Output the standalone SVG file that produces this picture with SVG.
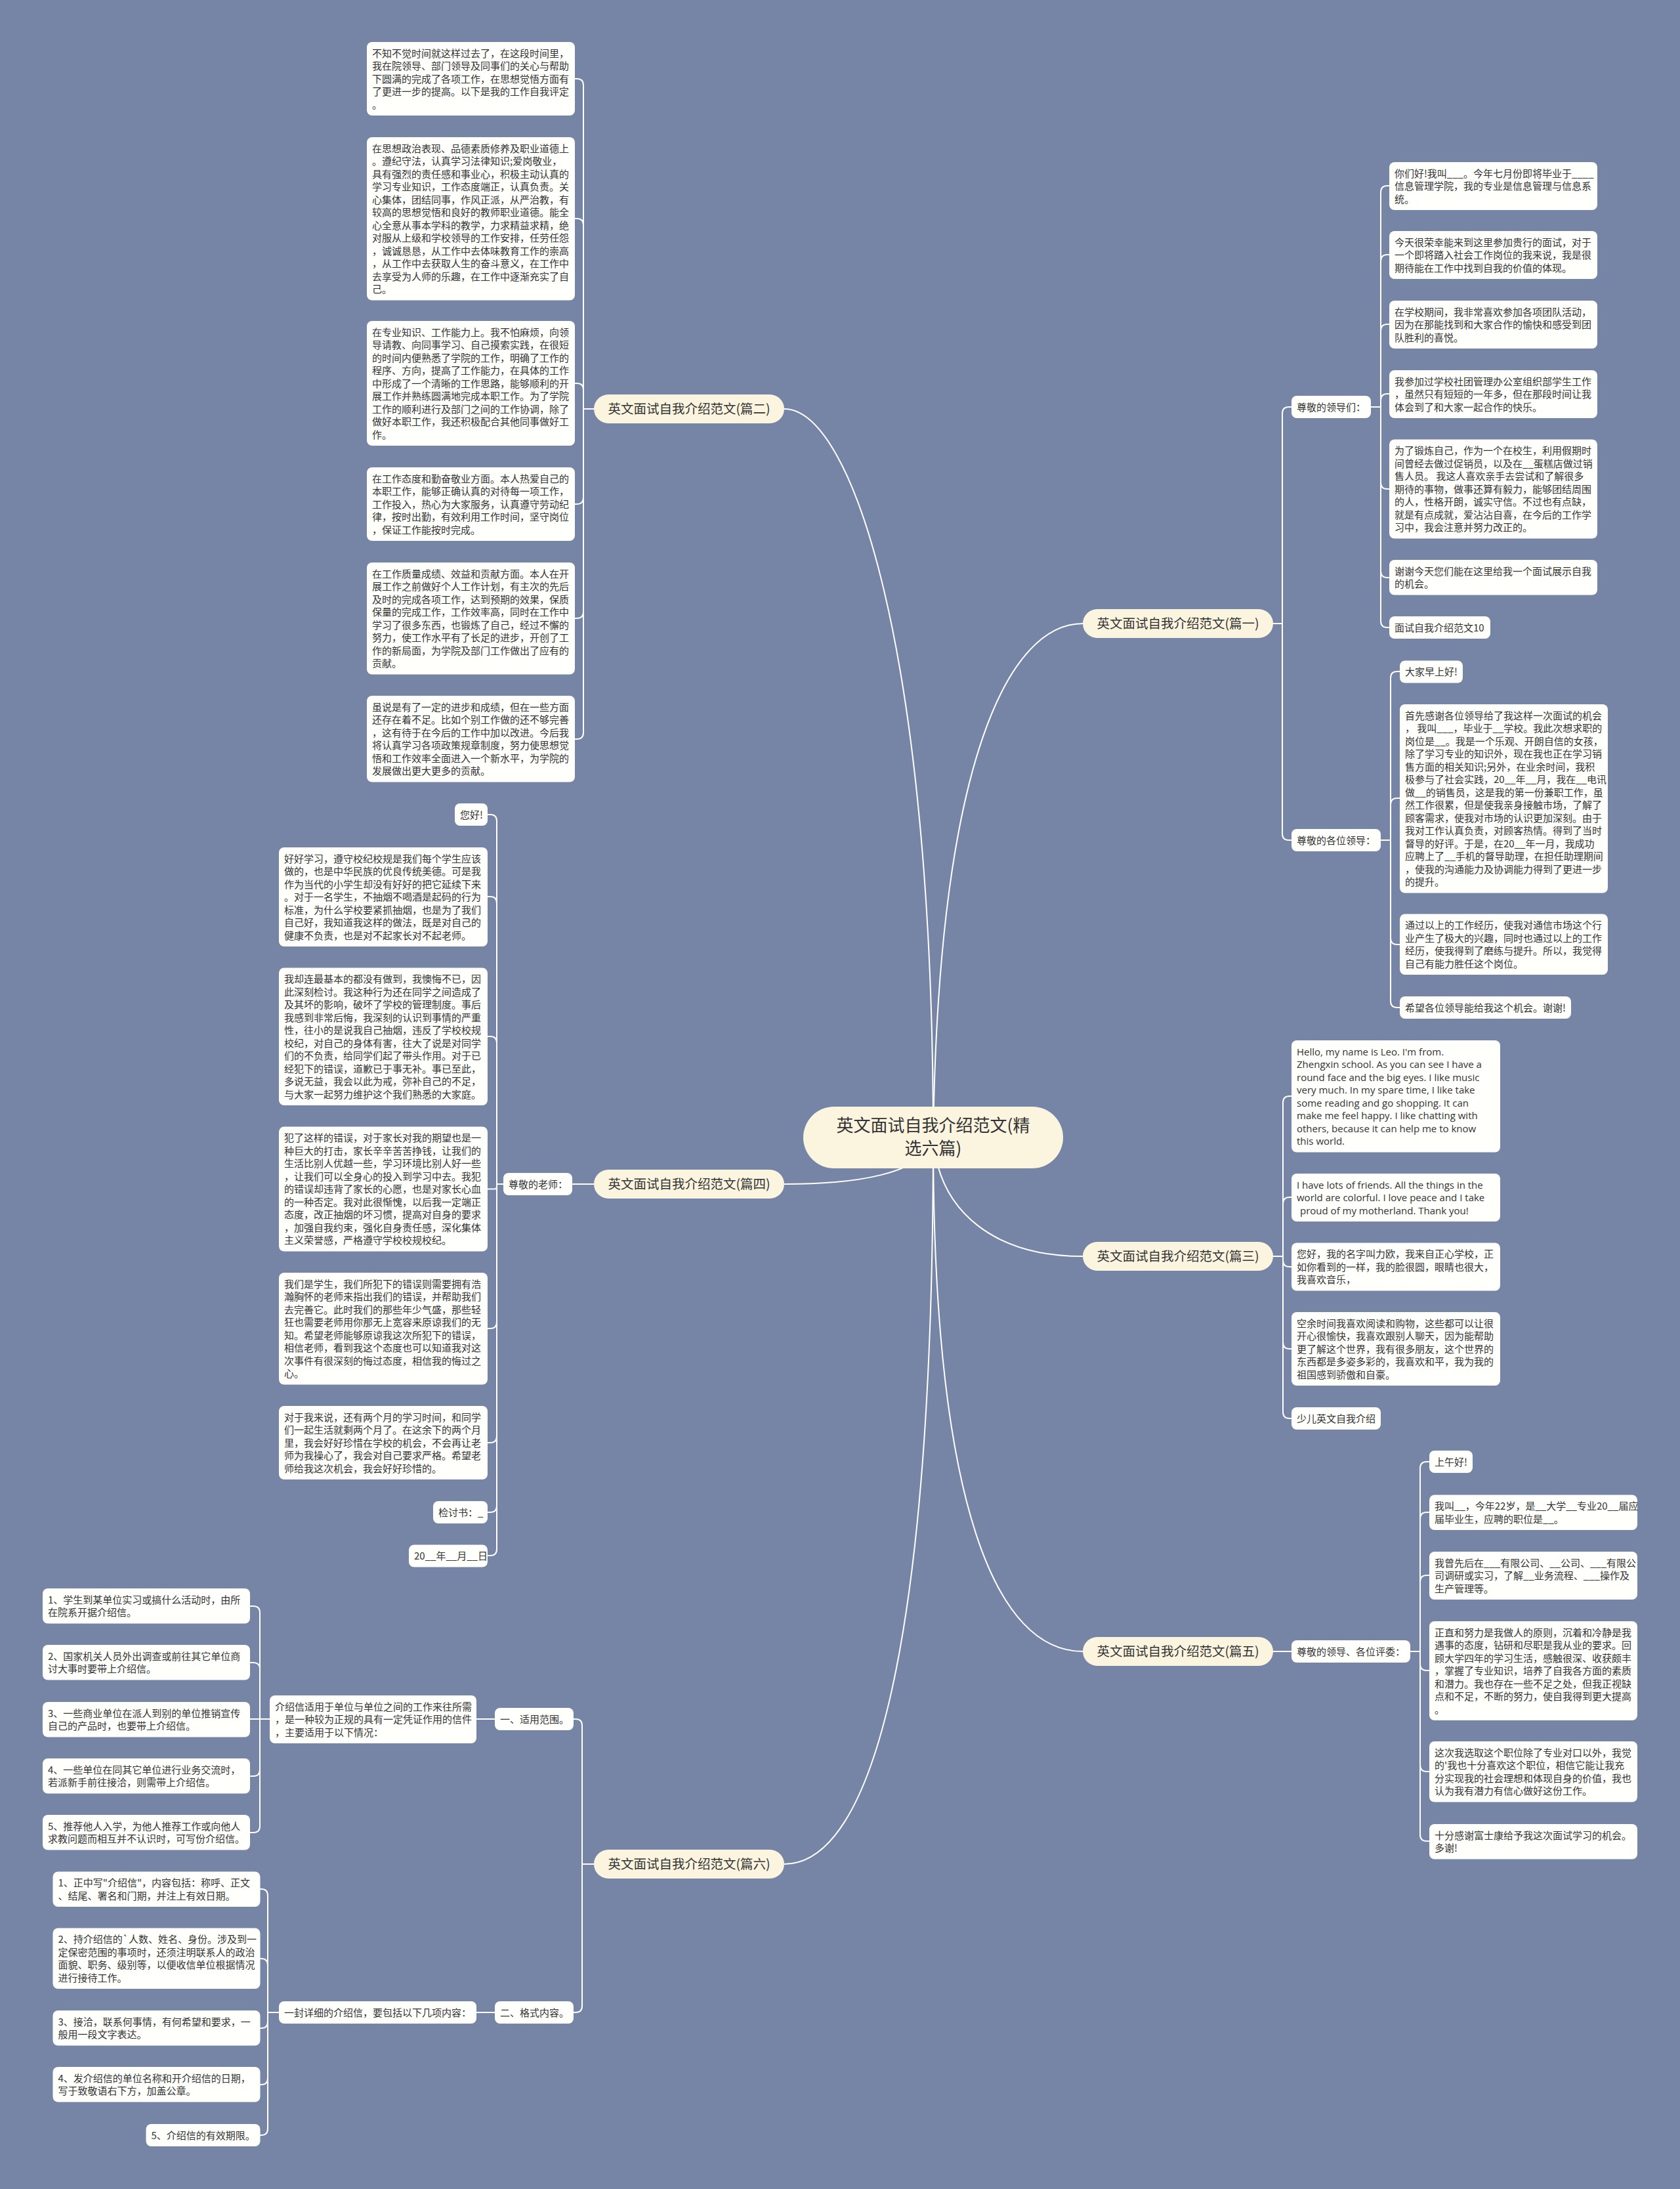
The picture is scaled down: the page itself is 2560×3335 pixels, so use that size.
<svg xmlns="http://www.w3.org/2000/svg" width="2560" height="3335" viewBox="0 0 2560 3335">
<style>
.bg{fill:#7685A6}
.leaf{fill:#FFFFFC}
.main{fill:#FBF5E0}
.t{font-family:"Noto Sans CJK SC","Noto Sans",sans-serif;font-size:15px;fill:#333}
.en{font-family:"Open Sans","Noto Sans",sans-serif;font-size:15px;fill:#333}
.b{font-family:"Noto Sans CJK SC","Noto Sans",sans-serif;font-size:19.5px;fill:#333;text-anchor:middle}
.r{font-family:"Noto Sans CJK SC","Noto Sans",sans-serif;font-size:26px;fill:#333;text-anchor:middle}
.lk{fill:none;stroke:#FFFFFF;stroke-width:2}
</style>
<rect class="bg" x="0" y="0" width="2560" height="3335"/>
<g id="connectors">
<path class="lk" d="M1422,1733C1422,1000 1300,623 1195,623"/>
<path class="lk" d="M1422,1733C1430,1150 1540,950 1650,950"/>
<path class="lk" d="M1422,1733C1410,1790 1300,1804 1195,1804"/>
<path class="lk" d="M1422,1733C1430,1850 1520,1914 1650,1914"/>
<path class="lk" d="M1422,1733C1422,2300 1520,2516 1650,2516"/>
<path class="lk" d="M1422,1733C1422,2500 1330,2840 1195,2840"/>
<path class="lk" d="M905,623H889V130Q889,120 879,120H876"/>
<path class="lk" d="M905,623H889V343Q889,333 879,333H876"/>
<path class="lk" d="M905,623H889V594Q889,584 879,584H876"/>
<path class="lk" d="M905,623H889V758Q889,768 879,768H876"/>
<path class="lk" d="M905,623H889V932Q889,942 879,942H876"/>
<path class="lk" d="M905,623H889V1116Q889,1126 879,1126H876"/>
<path class="lk" d="M1940,950H1954V630Q1954,620 1964,620H1968"/>
<path class="lk" d="M1940,950H1954V1270Q1954,1280 1964,1280H1968"/>
<path class="lk" d="M2089,620H2104V293Q2104,283 2114,283H2117"/>
<path class="lk" d="M2089,620H2104V398Q2104,388 2114,388H2117"/>
<path class="lk" d="M2089,620H2104V504Q2104,494 2114,494H2117"/>
<path class="lk" d="M2089,620H2104V610Q2104,600 2114,600H2117"/>
<path class="lk" d="M2089,620H2104V735Q2104,745 2114,745H2117"/>
<path class="lk" d="M2089,620H2104V870Q2104,880 2114,880H2117"/>
<path class="lk" d="M2089,620H2104V946Q2104,956 2114,956H2117"/>
<path class="lk" d="M2104,1280H2119V1033Q2119,1023 2129,1023H2133"/>
<path class="lk" d="M2104,1280H2119V1226Q2119,1216 2129,1216H2133"/>
<path class="lk" d="M2104,1280H2119V1429Q2119,1439 2129,1439H2133"/>
<path class="lk" d="M2104,1280H2119V1525Q2119,1535 2129,1535H2133"/>
<path class="lk" d="M1940,1914H1955V1680Q1955,1670 1965,1670H1968"/>
<path class="lk" d="M1940,1914H1955V1834Q1955,1824 1965,1824H1968"/>
<path class="lk" d="M1940,1914H1955V1920Q1955,1930 1965,1930H1968"/>
<path class="lk" d="M1940,1914H1955V2045Q1955,2055 1965,2055H1968"/>
<path class="lk" d="M1940,1914H1955V2151Q1955,2161 1965,2161H1968"/>
<path class="lk" d="M1940,2516H1968"/>
<path class="lk" d="M2149,2516H2164V2237Q2164,2227 2174,2227H2178"/>
<path class="lk" d="M2149,2516H2164V2314Q2164,2304 2174,2304H2178"/>
<path class="lk" d="M2149,2516H2164V2410Q2164,2400 2174,2400H2178"/>
<path class="lk" d="M2149,2516H2164V2535Q2164,2545 2174,2545H2178"/>
<path class="lk" d="M2149,2516H2164V2689Q2164,2699 2174,2699H2178"/>
<path class="lk" d="M2149,2516H2164V2795Q2164,2805 2174,2805H2178"/>
<path class="lk" d="M905,1804H872"/>
<path class="lk" d="M767,1804H757V1251Q757,1241 747,1241H743"/>
<path class="lk" d="M767,1804H757V1376Q757,1366 747,1366H743"/>
<path class="lk" d="M767,1804H757V1589Q757,1579 747,1579H743"/>
<path class="lk" d="M767,1804H757V1808Q757,1811.5 753,1811.5H743"/>
<path class="lk" d="M767,1804H757V2014Q757,2024 747,2024H743"/>
<path class="lk" d="M767,1804H757V2188Q757,2198 747,2198H743"/>
<path class="lk" d="M767,1804H757V2294Q757,2304 747,2304H743"/>
<path class="lk" d="M767,1804H757V2360Q757,2370 747,2370H743"/>
<path class="lk" d="M905,2840H887V2629Q887,2619 877,2619H874"/>
<path class="lk" d="M905,2840H887V3056Q887,3066 877,3066H874"/>
<path class="lk" d="M754,2619H726"/>
<path class="lk" d="M411,2619H396V2457Q396,2447 386,2447H381"/>
<path class="lk" d="M411,2619H396V2543Q396,2533 386,2533H381"/>
<path class="lk" d="M411,2619H381"/>
<path class="lk" d="M411,2619H396V2696Q396,2706 386,2706H381"/>
<path class="lk" d="M411,2619H396V2782Q396,2792 386,2792H381"/>
<path class="lk" d="M754,3066H726"/>
<path class="lk" d="M425,3066H408V2888Q408,2878 398,2878H396"/>
<path class="lk" d="M425,3066H408V2994Q408,2984 398,2984H396"/>
<path class="lk" d="M425,3066H408V3080Q408,3090 398,3090H396"/>
<path class="lk" d="M425,3066H408V3166Q408,3176 398,3176H396"/>
<path class="lk" d="M425,3066H408V3243Q408,3253 398,3253H396"/>
</g>
<g id="root">
<rect class="main" x="1224" y="1686" width="396" height="94" rx="47"/>
<text class="r" x="1422" y="1724"><tspan x="1422">英文面试自我介绍范文(精</tspan><tspan x="1422" dy="35">选六篇)</tspan></text>
</g>
<g id="b2"><rect class="main" x="905" y="601" width="290" height="44" rx="22"/><text class="b" x="1050" y="630">英文面试自我介绍范文(篇二)</text></g>
<g id="b1"><rect class="main" x="1650" y="928" width="290" height="44" rx="22"/><text class="b" x="1795" y="957">英文面试自我介绍范文(篇一)</text></g>
<g id="b4"><rect class="main" x="905" y="1782" width="290" height="44" rx="22"/><text class="b" x="1050" y="1811">英文面试自我介绍范文(篇四)</text></g>
<g id="b3"><rect class="main" x="1650" y="1892" width="290" height="44" rx="22"/><text class="b" x="1795" y="1921">英文面试自我介绍范文(篇三)</text></g>
<g id="b5"><rect class="main" x="1650" y="2494" width="290" height="44" rx="22"/><text class="b" x="1795" y="2523">英文面试自我介绍范文(篇五)</text></g>
<g id="b6"><rect class="main" x="905" y="2818" width="290" height="44" rx="22"/><text class="b" x="1050" y="2847">英文面试自我介绍范文(篇六)</text></g>

<g id="b2-1"><rect class="leaf" x="559" y="64" width="317" height="112" rx="8"/><text class="t" x="567" y="86.5"><tspan x="567">不知不觉时间就这样过去了，在这段时间里，</tspan><tspan x="567" dy="19.5">我在院领导、部门领导及同事们的关心与帮助</tspan><tspan x="567" dy="19.5">下圆满的完成了各项工作，在思想觉悟方面有</tspan><tspan x="567" dy="19.5">了更进一步的提高。以下是我的工作自我评定</tspan><tspan x="567" dy="19.5">。</tspan></text></g>
<g id="b2-2"><rect class="leaf" x="559" y="209" width="317" height="248.5" rx="8"/><text class="t" x="567" y="231.5"><tspan x="567">在思想政治表现、品德素质修养及职业道德上</tspan><tspan x="567" dy="19.5">。遵纪守法，认真学习法律知识;爱岗敬业，</tspan><tspan x="567" dy="19.5">具有强烈的责任感和事业心，积极主动认真的</tspan><tspan x="567" dy="19.5">学习专业知识，工作态度端正，认真负责。关</tspan><tspan x="567" dy="19.5">心集体，团结同事，作风正派，从严治教，有</tspan><tspan x="567" dy="19.5">较高的思想觉悟和良好的教师职业道德。能全</tspan><tspan x="567" dy="19.5">心全意从事本学科的教学，力求精益求精，绝</tspan><tspan x="567" dy="19.5">对服从上级和学校领导的工作安排，任劳任怨</tspan><tspan x="567" dy="19.5">，诚诚恳恳，从工作中去体味教育工作的崇高</tspan><tspan x="567" dy="19.5">，从工作中去获取人生的奋斗意义，在工作中</tspan><tspan x="567" dy="19.5">去享受为人师的乐趣，在工作中逐渐充实了自</tspan><tspan x="567" dy="19.5">己。</tspan></text></g>
<g id="b2-3"><rect class="leaf" x="559" y="489" width="317" height="190" rx="8"/><text class="t" x="567" y="511.5"><tspan x="567">在专业知识、工作能力上。我不怕麻烦，向领</tspan><tspan x="567" dy="19.5">导请教、向同事学习、自己摸索实践，在很短</tspan><tspan x="567" dy="19.5">的时间内便熟悉了学院的工作，明确了工作的</tspan><tspan x="567" dy="19.5">程序、方向，提高了工作能力，在具体的工作</tspan><tspan x="567" dy="19.5">中形成了一个清晰的工作思路，能够顺利的开</tspan><tspan x="567" dy="19.5">展工作并熟练圆满地完成本职工作。为了学院</tspan><tspan x="567" dy="19.5">工作的顺利进行及部门之间的工作协调，除了</tspan><tspan x="567" dy="19.5">做好本职工作，我还积极配合其他同事做好工</tspan><tspan x="567" dy="19.5">作。</tspan></text></g>
<g id="b2-4"><rect class="leaf" x="559" y="712" width="317" height="112" rx="8"/><text class="t" x="567" y="734.5"><tspan x="567">在工作态度和勤奋敬业方面。本人热爱自己的</tspan><tspan x="567" dy="19.5">本职工作，能够正确认真的对待每一项工作，</tspan><tspan x="567" dy="19.5">工作投入，热心为大家服务，认真遵守劳动纪</tspan><tspan x="567" dy="19.5">律，按时出勤，有效利用工作时间，坚守岗位</tspan><tspan x="567" dy="19.5">，保证工作能按时完成。</tspan></text></g>
<g id="b2-5"><rect class="leaf" x="559" y="857" width="317" height="170.5" rx="8"/><text class="t" x="567" y="879.5"><tspan x="567">在工作质量成绩、效益和贡献方面。本人在开</tspan><tspan x="567" dy="19.5">展工作之前做好个人工作计划，有主次的先后</tspan><tspan x="567" dy="19.5">及时的完成各项工作，达到预期的效果，保质</tspan><tspan x="567" dy="19.5">保量的完成工作，工作效率高，同时在工作中</tspan><tspan x="567" dy="19.5">学习了很多东西，也锻炼了自己，经过不懈的</tspan><tspan x="567" dy="19.5">努力，使工作水平有了长足的进步，开创了工</tspan><tspan x="567" dy="19.5">作的新局面，为学院及部门工作做出了应有的</tspan><tspan x="567" dy="19.5">贡献。</tspan></text></g>
<g id="b2-6"><rect class="leaf" x="559" y="1060" width="317" height="131.5" rx="8"/><text class="t" x="567" y="1082.5"><tspan x="567">虽说是有了一定的进步和成绩，但在一些方面</tspan><tspan x="567" dy="19.5">还存在着不足。比如个别工作做的还不够完善</tspan><tspan x="567" dy="19.5">，这有待于在今后的工作中加以改进。今后我</tspan><tspan x="567" dy="19.5">将认真学习各项政策规章制度，努力使思想觉</tspan><tspan x="567" dy="19.5">悟和工作效率全面进入一个新水平，为学院的</tspan><tspan x="567" dy="19.5">发展做出更大更多的贡献。</tspan></text></g>

<g id="b1-a"><rect class="leaf" x="1968" y="603" width="121" height="34" rx="8"/><text class="t" x="1976" y="625.5">尊敬的领导们：</text></g>
<g id="b1-a1"><rect class="leaf" x="2117" y="247" width="317" height="73" rx="8"/><text class="t" x="2125" y="269.5"><tspan x="2125">你们好!我叫___。今年七月份即将毕业于____</tspan><tspan x="2125" dy="19.5">信息管理学院，我的专业是信息管理与信息系</tspan><tspan x="2125" dy="19.5">统。</tspan></text></g>
<g id="b1-a2"><rect class="leaf" x="2117" y="352" width="317" height="73" rx="8"/><text class="t" x="2125" y="374.5"><tspan x="2125">今天很荣幸能来到这里参加贵行的面试，对于</tspan><tspan x="2125" dy="19.5">一个即将踏入社会工作岗位的我来说，我是很</tspan><tspan x="2125" dy="19.5">期待能在工作中找到自我的价值的体现。</tspan></text></g>
<g id="b1-a3"><rect class="leaf" x="2117" y="458" width="317" height="73" rx="8"/><text class="t" x="2125" y="480.5"><tspan x="2125">在学校期间，我非常喜欢参加各项团队活动，</tspan><tspan x="2125" dy="19.5">因为在那能找到和大家合作的愉快和感受到团</tspan><tspan x="2125" dy="19.5">队胜利的喜悦。</tspan></text></g>
<g id="b1-a4"><rect class="leaf" x="2117" y="564" width="317" height="73" rx="8"/><text class="t" x="2125" y="586.5"><tspan x="2125">我参加过学校社团管理办公室组织部学生工作</tspan><tspan x="2125" dy="19.5">，虽然只有短短的一年多，但在那段时间让我</tspan><tspan x="2125" dy="19.5">体会到了和大家一起合作的快乐。</tspan></text></g>
<g id="b1-a5"><rect class="leaf" x="2117" y="669.5" width="317" height="151" rx="8"/><text class="t" x="2125" y="692"><tspan x="2125">为了锻炼自己，作为一个在校生，利用假期时</tspan><tspan x="2125" dy="19.5">间曾经去做过促销员，以及在__蛋糕店做过销</tspan><tspan x="2125" dy="19.5">售人员。 我这人喜欢亲手去尝试和了解很多</tspan><tspan x="2125" dy="19.5">期待的事物，做事还算有毅力，能够团结周围</tspan><tspan x="2125" dy="19.5">的人，性格开朗，诚实守信。不过也有点缺，</tspan><tspan x="2125" dy="19.5">就是有点成就，爱沾沾自喜，在今后的工作学</tspan><tspan x="2125" dy="19.5">习中，我会注意并努力改正的。</tspan></text></g>
<g id="b1-a6"><rect class="leaf" x="2117" y="853" width="317" height="53.5" rx="8"/><text class="t" x="2125" y="875.5"><tspan x="2125">谢谢今天您们能在这里给我一个面试展示自我</tspan><tspan x="2125" dy="19.5">的机会。</tspan></text></g>
<g id="b1-a7"><rect class="leaf" x="2117" y="939" width="154" height="34" rx="8"/><text class="t" x="2125" y="961.5">面试自我介绍范文10</text></g>

<g id="b1-b"><rect class="leaf" x="1968" y="1263" width="136" height="34" rx="8"/><text class="t" x="1976" y="1285.5">尊敬的各位领导：</text></g>
<g id="b1-b1"><rect class="leaf" x="2133" y="1006.5" width="96" height="34" rx="8"/><text class="t" x="2141" y="1029">大家早上好!</text></g>
<g id="b1-b2"><rect class="leaf" x="2133" y="1073" width="317" height="287.5" rx="8"/><text class="t" x="2141" y="1095.5"><tspan x="2141">首先感谢各位领导给了我这样一次面试的机会</tspan><tspan x="2141" dy="19.5">， 我叫___，毕业于__学校。我此次想求职的</tspan><tspan x="2141" dy="19.5">岗位是__。我是一个乐观、开朗自信的女孩，</tspan><tspan x="2141" dy="19.5">除了学习专业的知识外，现在我也正在学习销</tspan><tspan x="2141" dy="19.5">售方面的相关知识;另外，在业余时间，我积</tspan><tspan x="2141" dy="19.5">极参与了社会实践，20__年__月，我在__电讯</tspan><tspan x="2141" dy="19.5">做__的销售员，这是我的第一份兼职工作，虽</tspan><tspan x="2141" dy="19.5">然工作很累，但是使我亲身接触市场，了解了</tspan><tspan x="2141" dy="19.5">顾客需求，使我对市场的认识更加深刻。由于</tspan><tspan x="2141" dy="19.5">我对工作认真负责，对顾客热情。得到了当时</tspan><tspan x="2141" dy="19.5">督导的好评。于是，在20__年一月，我成功</tspan><tspan x="2141" dy="19.5">应聘上了__手机的督导助理，在担任助理期间</tspan><tspan x="2141" dy="19.5">，使我的沟通能力及协调能力得到了更进一步</tspan><tspan x="2141" dy="19.5">的提升。</tspan></text></g>
<g id="b1-b3"><rect class="leaf" x="2133" y="1392.5" width="317" height="92.5" rx="8"/><text class="t" x="2141" y="1415"><tspan x="2141">通过以上的工作经历，使我对通信市场这个行</tspan><tspan x="2141" dy="19.5">业产生了极大的兴趣，同时也通过以上的工作</tspan><tspan x="2141" dy="19.5">经历，使我得到了磨练与提升。所以，我觉得</tspan><tspan x="2141" dy="19.5">自己有能力胜任这个岗位。</tspan></text></g>
<g id="b1-b4"><rect class="leaf" x="2133" y="1518" width="261" height="34" rx="8"/><text class="t" x="2141" y="1540.5">希望各位领导能给我这个机会。谢谢!</text></g>

<g id="b3-1"><rect class="leaf" x="1968" y="1585" width="318" height="170.5" rx="8"/><text class="en" x="1976" y="1607.5"><tspan x="1976">Hello, my name is Leo. I'm from.</tspan><tspan x="1976" dy="19.5">Zhengxin school. As you can see I have a</tspan><tspan x="1976" dy="19.5">round face and the big eyes. I like music</tspan><tspan x="1976" dy="19.5">very much. In my spare time, I like take</tspan><tspan x="1976" dy="19.5">some reading and go shopping. It can</tspan><tspan x="1976" dy="19.5">make me feel happy. I like chatting with</tspan><tspan x="1976" dy="19.5">others, because it can help me to know</tspan><tspan x="1976" dy="19.5">this world.</tspan></text></g>
<g id="b3-2"><rect class="leaf" x="1968" y="1788" width="318" height="73" rx="8"/><text class="en" x="1976" y="1810.5"><tspan x="1976">I have lots of friends. All the things in the</tspan><tspan x="1976" dy="19.5">world are colorful. I love peace and I take</tspan><tspan x="1981" dy="19.5">proud of my motherland. Thank you!</tspan></text></g>
<g id="b3-3"><rect class="leaf" x="1968" y="1893.5" width="318" height="73" rx="8"/><text class="t" x="1976" y="1916"><tspan x="1976">您好，我的名字叫力欧，我来自正心学校，正</tspan><tspan x="1976" dy="19.5">如你看到的一样，我的脸很圆，眼睛也很大，</tspan><tspan x="1976" dy="19.5">我喜欢音乐，</tspan></text></g>
<g id="b3-4"><rect class="leaf" x="1968" y="1999" width="318" height="112" rx="8"/><text class="t" x="1976" y="2021.5"><tspan x="1976">空余时间我喜欢阅读和购物，这些都可以让很</tspan><tspan x="1976" dy="19.5">开心很愉快，我喜欢跟别人聊天，因为能帮助</tspan><tspan x="1976" dy="19.5">更了解这个世界，我有很多朋友，这个世界的</tspan><tspan x="1976" dy="19.5">东西都是多姿多彩的，我喜欢和平，我为我的</tspan><tspan x="1976" dy="19.5">祖国感到骄傲和自豪。</tspan></text></g>
<g id="b3-5"><rect class="leaf" x="1968" y="2144" width="136" height="34" rx="8"/><text class="t" x="1976" y="2166.5">少儿英文自我介绍</text></g>

<g id="b5-a"><rect class="leaf" x="1968" y="2499" width="181" height="34" rx="8"/><text class="t" x="1976" y="2521.5">尊敬的领导、各位评委：</text></g>
<g id="b5-1"><rect class="leaf" x="2178" y="2210" width="66" height="34" rx="8"/><text class="t" x="2186" y="2232.5">上午好!</text></g>
<g id="b5-2"><rect class="leaf" x="2178" y="2277.5" width="317" height="53.5" rx="8"/><text class="t" x="2186" y="2300"><tspan x="2186">我叫__，今年22岁，是__大学__专业20__届应</tspan><tspan x="2186" dy="19.5">届毕业生，应聘的职位是__。</tspan></text></g>
<g id="b5-3"><rect class="leaf" x="2178" y="2364" width="317" height="73" rx="8"/><text class="t" x="2186" y="2386.5"><tspan x="2186">我曾先后在___有限公司、__公司、___有限公</tspan><tspan x="2186" dy="19.5">司调研或实习，了解__业务流程、___操作及</tspan><tspan x="2186" dy="19.5">生产管理等。</tspan></text></g>
<g id="b5-4"><rect class="leaf" x="2178" y="2470" width="317" height="151" rx="8"/><text class="t" x="2186" y="2492.5"><tspan x="2186">正直和努力是我做人的原则，沉着和冷静是我</tspan><tspan x="2186" dy="19.5">遇事的态度，钻研和尽职是我从业的要求。回</tspan><tspan x="2186" dy="19.5">顾大学四年的学习生活，感触很深、收获颇丰</tspan><tspan x="2186" dy="19.5">，掌握了专业知识，培养了自我各方面的素质</tspan><tspan x="2186" dy="19.5">和潜力。我也存在一些不足之处，但我正视缺</tspan><tspan x="2186" dy="19.5">点和不足，不断的努力，使自我得到更大提高</tspan><tspan x="2186" dy="19.5">。</tspan></text></g>
<g id="b5-5"><rect class="leaf" x="2178" y="2653" width="317" height="92.5" rx="8"/><text class="t" x="2186" y="2675.5"><tspan x="2186">这次我选取这个职位除了专业对口以外，我觉</tspan><tspan x="2186" dy="19.5">的'我也十分喜欢这个职位，相信它能让我充</tspan><tspan x="2186" dy="19.5">分实现我的社会理想和体现自身的价值，我也</tspan><tspan x="2186" dy="19.5">认为我有潜力有信心做好这份工作。</tspan></text></g>
<g id="b5-6"><rect class="leaf" x="2178" y="2779" width="317" height="53.5" rx="8"/><text class="t" x="2186" y="2801.5"><tspan x="2186">十分感谢富士康给予我这次面试学习的机会。</tspan><tspan x="2186" dy="19.5">多谢!</tspan></text></g>

<g id="b4-a"><rect class="leaf" x="767" y="1787" width="105" height="34" rx="8"/><text class="t" x="775" y="1809.5">尊敬的老师：</text></g>
<g id="b4-1"><rect class="leaf" x="693" y="1224" width="50" height="34" rx="8"/><text class="t" x="701" y="1246.5">您好!</text></g>
<g id="b4-2"><rect class="leaf" x="425" y="1291" width="318" height="151" rx="8"/><text class="t" x="433" y="1313.5"><tspan x="433">好好学习，遵守校纪校规是我们每个学生应该</tspan><tspan x="433" dy="19.5">做的，也是中华民族的优良传统美德。可是我</tspan><tspan x="433" dy="19.5">作为当代的小学生却没有好好的把它延续下来</tspan><tspan x="433" dy="19.5">。对于一名学生，不抽烟不喝酒是起码的行为</tspan><tspan x="433" dy="19.5">标准，为什么学校要紧抓抽烟，也是为了我们</tspan><tspan x="433" dy="19.5">自己好，我知道我这样的做法，既是对自己的</tspan><tspan x="433" dy="19.5">健康不负责，也是对不起家长对不起老师。</tspan></text></g>
<g id="b4-3"><rect class="leaf" x="425" y="1474.5" width="318" height="209.5" rx="8"/><text class="t" x="433" y="1497"><tspan x="433">我却连最基本的都没有做到，我懊悔不已，因</tspan><tspan x="433" dy="19.5">此深刻检讨。我这种行为还在同学之间造成了</tspan><tspan x="433" dy="19.5">及其坏的影响，破坏了学校的管理制度。事后</tspan><tspan x="433" dy="19.5">我感到非常后悔，我深刻的认识到事情的严重</tspan><tspan x="433" dy="19.5">性，往小的是说我自己抽烟，违反了学校校规</tspan><tspan x="433" dy="19.5">校纪，对自己的身体有害，往大了说是对同学</tspan><tspan x="433" dy="19.5">们的不负责，给同学们起了带头作用。对于已</tspan><tspan x="433" dy="19.5">经犯下的错误，道歉已于事无补。事已至此，</tspan><tspan x="433" dy="19.5">多说无益，我会以此为戒，弥补自己的不足，</tspan><tspan x="433" dy="19.5">与大家一起努力维护这个我们熟悉的大家庭。</tspan></text></g>
<g id="b4-4"><rect class="leaf" x="425" y="1716.5" width="318" height="190" rx="8"/><text class="t" x="433" y="1739"><tspan x="433">犯了这样的错误，对于家长对我的期望也是一</tspan><tspan x="433" dy="19.5">种巨大的打击，家长辛辛苦苦挣钱，让我们的</tspan><tspan x="433" dy="19.5">生活比别人优越一些，学习环境比别人好一些</tspan><tspan x="433" dy="19.5">，让我们可以全身心的投入到学习中去。我犯</tspan><tspan x="433" dy="19.5">的错误却违背了家长的心愿，也是对家长心血</tspan><tspan x="433" dy="19.5">的一种否定。我对此很惭愧，以后我一定端正</tspan><tspan x="433" dy="19.5">态度，改正抽烟的坏习惯，提高对自身的要求</tspan><tspan x="433" dy="19.5">，加强自我约束，强化自身责任感，深化集体</tspan><tspan x="433" dy="19.5">主义荣誉感，严格遵守学校校规校纪。</tspan></text></g>
<g id="b4-5"><rect class="leaf" x="425" y="1939" width="318" height="170.5" rx="8"/><text class="t" x="433" y="1961.5"><tspan x="433">我们是学生，我们所犯下的错误则需要拥有浩</tspan><tspan x="433" dy="19.5">瀚胸怀的老师来指出我们的错误，并帮助我们</tspan><tspan x="433" dy="19.5">去完善它。此时我们的那些年少气盛，那些轻</tspan><tspan x="433" dy="19.5">狂也需要老师用你那无上宽容来原谅我们的无</tspan><tspan x="433" dy="19.5">知。希望老师能够原谅我这次所犯下的错误，</tspan><tspan x="433" dy="19.5">相信老师，看到我这个态度也可以知道我对这</tspan><tspan x="433" dy="19.5">次事件有很深刻的悔过态度，相信我的悔过之</tspan><tspan x="433" dy="19.5">心。</tspan></text></g>
<g id="b4-6"><rect class="leaf" x="425" y="2142" width="318" height="112" rx="8"/><text class="t" x="433" y="2164.5"><tspan x="433">对于我来说，还有两个月的学习时间，和同学</tspan><tspan x="433" dy="19.5">们一起生活就剩两个月了。在这余下的两个月</tspan><tspan x="433" dy="19.5">里，我会好好珍惜在学校的机会，不会再让老</tspan><tspan x="433" dy="19.5">师为我操心了，我会对自己要求严格。希望老</tspan><tspan x="433" dy="19.5">师给我这次机会，我会好好珍惜的。</tspan></text></g>
<g id="b4-7"><rect class="leaf" x="660" y="2287" width="83" height="34" rx="8"/><text class="t" x="668" y="2309.5">检讨书：_</text></g>
<g id="b4-8"><rect class="leaf" x="623" y="2353.5" width="120" height="34" rx="8"/><text class="t" x="631" y="2376">20__年__月__日</text></g>

<g id="b6-a"><rect class="leaf" x="754" y="2602" width="120" height="34" rx="8"/><text class="t" x="762" y="2624.5">一、适用范围。</text></g>
<g id="b6-a0"><rect class="leaf" x="411" y="2583" width="315" height="73" rx="8"/><text class="t" x="419" y="2605.5"><tspan x="419">介绍信适用于单位与单位之间的工作来往所需</tspan><tspan x="419" dy="19.5">，是一种较为正规的具有一定凭证作用的信件</tspan><tspan x="419" dy="19.5">，主要适用于以下情况：</tspan></text></g>
<g id="b6-a1"><rect class="leaf" x="65" y="2420" width="316" height="53.5" rx="8"/><text class="t" x="73" y="2442.5"><tspan x="73">1、学生到某单位实习或搞什么活动时，由所</tspan><tspan x="73" dy="19.5">在院系开据介绍信。</tspan></text></g>
<g id="b6-a2"><rect class="leaf" x="65" y="2506" width="316" height="53.5" rx="8"/><text class="t" x="73" y="2528.5"><tspan x="73">2、国家机关人员外出调查或前往其它单位商</tspan><tspan x="73" dy="19.5">讨大事时要带上介绍信。</tspan></text></g>
<g id="b6-a3"><rect class="leaf" x="65" y="2593" width="316" height="53.5" rx="8"/><text class="t" x="73" y="2615.5"><tspan x="73">3、一些商业单位在派人到别的单位推销宣传</tspan><tspan x="73" dy="19.5">自己的产品时，也要带上介绍信。</tspan></text></g>
<g id="b6-a4"><rect class="leaf" x="65" y="2679" width="316" height="53.5" rx="8"/><text class="t" x="73" y="2701.5"><tspan x="73">4、一些单位在同其它单位进行业务交流时，</tspan><tspan x="73" dy="19.5">若派新手前往接洽，则需带上介绍信。</tspan></text></g>
<g id="b6-a5"><rect class="leaf" x="65" y="2765" width="316" height="53.5" rx="8"/><text class="t" x="73" y="2787.5"><tspan x="73">5、推荐他人入学，为他人推荐工作或向他人</tspan><tspan x="73" dy="19.5">求教问题而相互并不认识时，可写份介绍信。</tspan></text></g>

<g id="b6-b"><rect class="leaf" x="754" y="3049" width="120" height="34" rx="8"/><text class="t" x="762" y="3071.5">二、格式内容。</text></g>
<g id="b6-b0"><rect class="leaf" x="425" y="3049" width="301" height="34" rx="8"/><text class="t" x="433" y="3071.5">一封详细的介绍信，要包括以下几项内容：</text></g>
<g id="b6-b1"><rect class="leaf" x="80.5" y="2851.5" width="316" height="53.5" rx="8"/><text class="t" x="88.5" y="2874"><tspan x="88.5">1、正中写"介绍信"，内容包括：称呼、正文</tspan><tspan x="88.5" dy="19.5">、结尾、署名和门期，并注上有效日期。</tspan></text></g>
<g id="b6-b2"><rect class="leaf" x="80.5" y="2937.5" width="316" height="92.5" rx="8"/><text class="t" x="88.5" y="2960"><tspan x="88.5">2、持介绍信的`人数、姓名、身份。涉及到一</tspan><tspan x="88.5" dy="19.5">定保密范围的事项时，还须注明联系人的政治</tspan><tspan x="88.5" dy="19.5">面貌、职务、级别等，以便收信单位根据情况</tspan><tspan x="88.5" dy="19.5">进行接待工作。</tspan></text></g>
<g id="b6-b3"><rect class="leaf" x="80.5" y="3063" width="316" height="53.5" rx="8"/><text class="t" x="88.5" y="3085.5"><tspan x="88.5">3、接洽，联系何事情，有何希望和要求，一</tspan><tspan x="88.5" dy="19.5">般用一段文字表达。</tspan></text></g>
<g id="b6-b4"><rect class="leaf" x="80.5" y="3149" width="316" height="53.5" rx="8"/><text class="t" x="88.5" y="3171.5"><tspan x="88.5">4、发介绍信的单位名称和开介绍信的日期，</tspan><tspan x="88.5" dy="19.5">写于致敬语右下方，加盖公章。</tspan></text></g>
<g id="b6-b5"><rect class="leaf" x="222.5" y="3236" width="174" height="34" rx="8"/><text class="t" x="230.5" y="3258.5">5、介绍信的有效期限。</text></g>
</svg>
